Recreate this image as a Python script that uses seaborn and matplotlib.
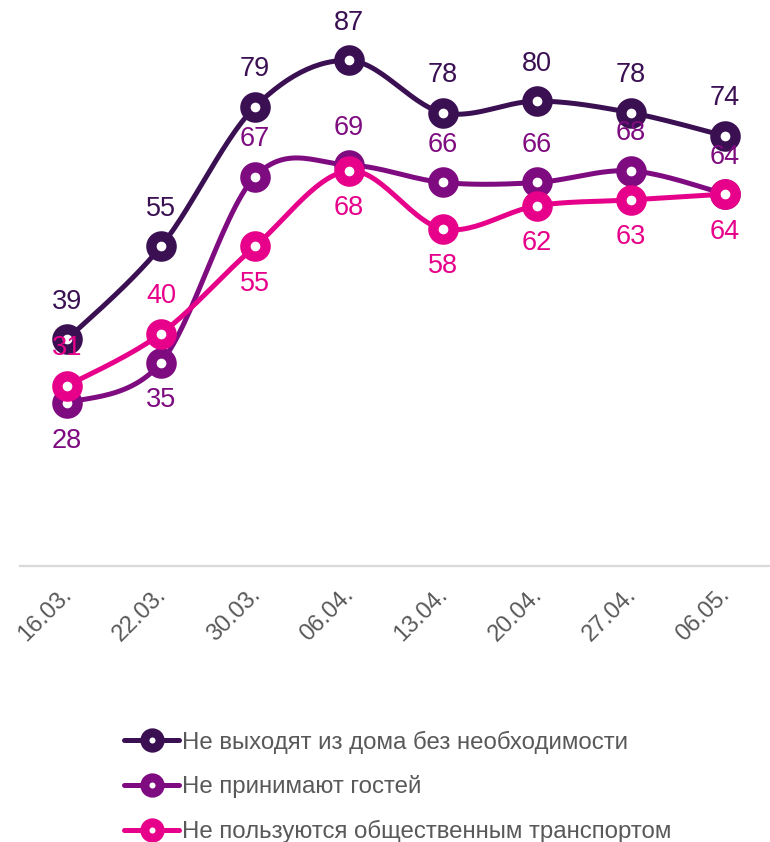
import numpy as np
import pandas as pd
import matplotlib
matplotlib.use('Agg')
import matplotlib.pyplot as plt
import matplotlib.transforms as mtransforms
import seaborn as sns
from matplotlib.lines import Line2D

# данные опроса
dates = ['16.03.', '22.03.', '30.03.', '06.04.', '13.04.', '20.04.', '27.04.', '06.05.']
home = [39, 55, 79, 87, 78, 80, 78, 74]
guests = [28, 35, 67, 69, 66, 66, 68, 64]
transport = [31, 40, 55, 68, 58, 62, 63, 64]
names = ['Не выходят из дома без необходимости',
         'Не принимают гостей',
         'Не пользуются общественным транспортом']
colors = ['#3B1053', '#7E0B80', '#E6008A']
# положение подписей: 1 - над точкой, -1 - под точкой
home_pos = [1, 1, 1, 1, 1, 1, 1, 1]
guests_pos = [-1, -1, 1, 1, 1, 1, 1, 1]
transport_pos = [1, 1, -1, -1, -1, -1, -1, -1]


# сглаживание линии как в Excel (Catmull-Rom)
def smooth(y, n=30):
    y = np.asarray(y, dtype=float)
    x = np.arange(len(y), dtype=float)
    px = np.concatenate([[x[0]], x, [x[-1]]])
    py = np.concatenate([[y[0]], y, [y[-1]]])
    xs, ys = [], []
    t = np.linspace(0, 1, n)
    for i in range(1, len(px) - 2):
        p0x, p1x, p2x, p3x = px[i - 1], px[i], px[i + 1], px[i + 2]
        p0y, p1y, p2y, p3y = py[i - 1], py[i], py[i + 1], py[i + 2]
        b1x, b1y = p1x + (p2x - p0x) / 6, p1y + (p2y - p0y) / 6
        b2x, b2y = p2x - (p3x - p1x) / 6, p2y - (p3y - p1y) / 6
        bx = (1 - t) ** 3 * p1x + 3 * (1 - t) ** 2 * t * b1x + 3 * (1 - t) * t ** 2 * b2x + t ** 3 * p2x
        by = (1 - t) ** 3 * p1y + 3 * (1 - t) ** 2 * t * b1y + 3 * (1 - t) * t ** 2 * b2y + t ** 3 * p2y
        xs.append(bx)
        ys.append(by)
    return np.concatenate(xs), np.concatenate(ys)


sns.set_style('white')
plt.rcParams['font.family'] = ['Liberation Sans', 'DejaVu Sans']

fig = plt.figure(figsize=(7.7, 8.42), dpi=100)
ax = fig.add_axes([20 / 770, 1 - 566 / 842, 752 / 770, 566 / 842])

series = [(home, home_pos), (guests, guests_pos), (transport, transport_pos)]
xi = np.arange(len(dates))
for (vals, pos), col in zip(series, colors):
    sx, sy = smooth(vals)
    sns.lineplot(x=sx, y=sy, sort=False, color=col, linewidth=3.6, ax=ax)
    ax.plot(xi, vals, linestyle='none', marker='o', markersize=14.5, markerfacecolor='white',
            markeredgecolor=col, markeredgewidth=7.5)
    for x, v, p in zip(xi, vals, pos):
        ax.annotate(str(v), (x, v), xytext=(0, 27 * p), textcoords='offset points',
                    ha='center', va='center', fontsize=19.5, color=col)

ax.set_xlim(-0.5, 7.5)
ax.set_ylim(0, 97.4)
ax.set_xticks(xi)
ax.set_xticklabels(dates, rotation=45, ha='right', rotation_mode='anchor',
                   fontsize=17, color='#595959')
ax.tick_params(axis='x', length=0, pad=13)
shift = mtransforms.ScaledTranslation(-6 / 100, 0, fig.dpi_scale_trans)
for lab in ax.get_xticklabels():
    lab.set_transform(lab.get_transform() + shift)
ax.set_yticks([])
for s in ['top', 'left', 'right']:
    ax.spines[s].set_visible(False)
ax.spines['bottom'].set_color('#D9D9D9')
ax.spines['bottom'].set_linewidth(1.6)
ax.set_xlabel('')
ax.set_ylabel('')

handles = [Line2D([0], [0], color=c, linewidth=3.6, marker='o', markersize=11,
                  markerfacecolor='white', markeredgecolor=c, markeredgewidth=6.5)
           for c in colors]
fig.legend(handles, names, loc='center left', bbox_to_anchor=(124 / 770, 1 - 787 / 842),
           frameon=False, fontsize=17.3, labelcolor='#595959', handlelength=2.3,
           handletextpad=0.1, labelspacing=0.9, borderpad=0, borderaxespad=0)

fig.savefig('out.png', dpi=100)
